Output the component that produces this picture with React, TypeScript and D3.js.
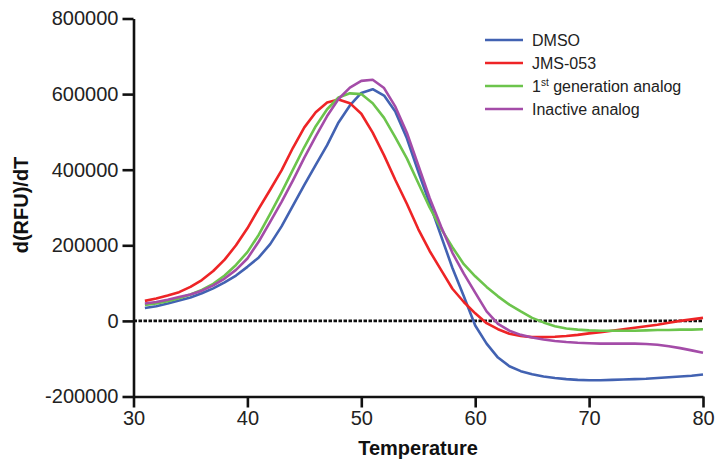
import React, { useRef, useEffect } from "react";
import { select, scaleLinear, line, axisLeft, axisBottom, curveLinear } from "d3";

// temperatures sampled once per degree
const temps = Array.from({ length: 50 }, (_, i) => 31 + i);

const dmso = [
  34000, 39000, 46000, 54000, 62000, 73000, 86000, 102000, 120000, 143000,
  168000, 203000, 250000, 305000, 360000, 413000, 465000, 525000, 570000, 603000,
  613000, 596000, 553000, 483000, 395000, 311000, 225000, 140000, 65000, -12000,
  -60000, -97000, -120000, -133000, -141000, -147000, -151000, -154000, -156000, -157000,
  -157000, -156000, -155000, -154000, -153000, -151000, -149000, -147000, -145000, -142000,
];

const jms053 = [
  53000, 59000, 67000, 76000, 90000, 108000, 132000, 162000, 200000, 245000,
  297000, 347000, 398000, 458000, 512000, 552000, 578000, 586000, 576000, 548000,
  498000, 438000, 372000, 310000, 243000, 185000, 135000, 85000, 50000, 20000,
  -6000, -22000, -34000, -40000, -43000, -43000, -42000, -40000, -37000, -33000,
  -30000, -26000, -22000, -18000, -14000, -10000, -5000, 0, 4000, 8000,
];

const firstGen = [
  42000, 46000, 52000, 60000, 70000, 82000, 98000, 120000, 148000, 182000,
  228000, 283000, 340000, 400000, 460000, 515000, 560000, 591000, 602000, 600000,
  576000, 537000, 485000, 430000, 365000, 300000, 244000, 195000, 150000, 118000,
  90000, 65000, 43000, 25000, 8000, -4000, -14000, -20000, -23000, -25000,
  -26000, -26000, -26000, -26000, -25000, -24000, -24000, -23000, -23000, -22000,
];

const inactive = [
  46000, 50000, 56000, 63000, 70000, 80000, 94000, 112000, 135000, 165000,
  210000, 262000, 315000, 372000, 432000, 488000, 542000, 587000, 617000, 635000,
  638000, 616000, 566000, 498000, 412000, 325000, 250000, 180000, 125000, 75000,
  25000, -8000, -26000, -37000, -44000, -49000, -53000, -56000, -58000, -59000,
  -60000, -60000, -60000, -60000, -61000, -63000, -67000, -72000, -78000, -84000,
];

const seriesNames = ["DMSO", "JMS-053", "1st generation analog", "Inactive analog"];
const seriesColors = ["#4262b2", "#ee2426", "#6cc44c", "#a44ca8"];
const seriesValues = [dmso, jms053, firstGen, inactive];

const xTicks = [30, 40, 50, 60, 70, 80];
const yTicks = [-200000, 0, 200000, 400000, 600000, 800000];

const W = 715;
const H = 462;
const FONT = "'Liberation Sans', Arial, sans-serif";

function App() {
  const xAxisRef = useRef(null);
  const yAxisRef = useRef(null);

  const x = scaleLinear().domain([30, 80]).range([133.5, 703]);
  const y = scaleLinear().domain([-200000, 800000]).range([396.5, 18.5]);

  const lineGen = line<number>()
    .x((d, i) => x(temps[i]))
    .y((d) => y(d))
    .curve(curveLinear);

  useEffect(() => {
    // axes drawn by d3, then restyled
    const gx = select(xAxisRef.current);
    gx.call(axisBottom(x).tickValues(xTicks).tickSize(11).tickSizeOuter(0).tickPadding(3));
    const gy = select(yAxisRef.current);
    gy.call(
      axisLeft(y).tickValues(yTicks).tickSize(11).tickSizeOuter(0).tickPadding(4).tickFormat((d) => String(d))
    );
    [gx, gy].forEach((g) => {
      g.selectAll("path.domain").attr("stroke", "#111").attr("stroke-width", 2.6);
      g.selectAll(".tick line").attr("stroke", "#111").attr("stroke-width", 2.6);
      g.selectAll(".tick text")
        .attr("fill", "#222")
        .attr("font-size", 20)
        .attr("font-family", FONT);
    });
  }, []);

  return (
    <svg
      width={W}
      height={H}
      style={{ position: "absolute", left: 0, top: 0, background: "#fff" }}
    >
      {/* zero reference line */}
      <line
        x1={x(30)}
        x2={x(80)}
        y1={y(0)}
        y2={y(0)}
        stroke="#111"
        strokeWidth={2.8}
        strokeDasharray="3.5,1.5"
      />

      {seriesValues.map((vals, i) => (
        <path
          key={seriesNames[i]}
          d={lineGen(vals) || ""}
          fill="none"
          stroke={seriesColors[i]}
          strokeWidth={2.6}
          strokeLinejoin="round"
        />
      ))}

      <g ref={xAxisRef} transform={`translate(0,${y(-200000)})`} />
      <g ref={yAxisRef} transform={`translate(${x(30)},0)`} />

      {/* axis titles */}
      <text
        x={418}
        y={455}
        textAnchor="middle"
        fontFamily={FONT}
        fontWeight="bold"
        fontSize={20}
        fill="#111"
      >
        Temperature
      </text>
      <text
        transform="translate(28,205) rotate(-90)"
        textAnchor="middle"
        fontFamily={FONT}
        fontWeight="bold"
        fontSize={20}
        fill="#111"
      >
        d(RFU)/dT
      </text>

      {/* legend */}
      {seriesNames.map((name, i) => {
        const ly = 40 + i * 23;
        return (
          <g key={name}>
            <line x1={485} x2={523} y1={ly} y2={ly} stroke={seriesColors[i]} strokeWidth={2.6} />
            <text x={532} y={ly + 6} fontFamily={FONT} fontSize={16} fill="#222">
              {i === 2 ? (
                <>
                  1<tspan fontSize={10} dy={-6}>st</tspan>
                  <tspan dy={6}> generation analog</tspan>
                </>
              ) : (
                name
              )}
            </text>
          </g>
        );
      })}
    </svg>
  );
}

export default App;
